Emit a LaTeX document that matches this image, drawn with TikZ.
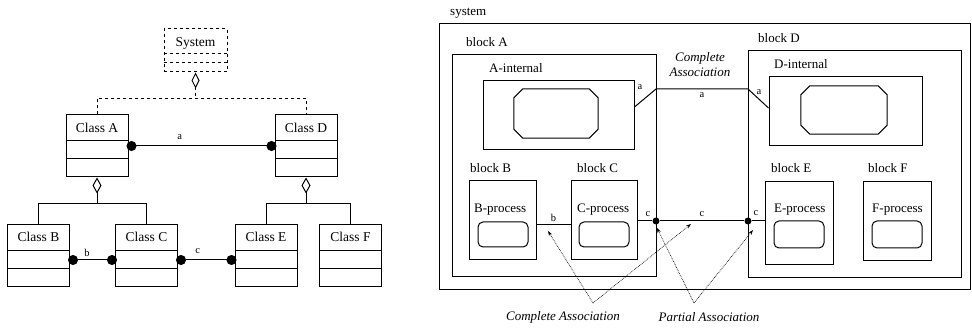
\documentclass[tikz,border=0pt]{standalone}
\usepackage{fontspec}
\setmainfont{Liberation Serif}
\usetikzlibrary{arrows.meta,positioning}
\newcommand{\classfont}{\fontsize{13.5}{16}\selectfont}
\newcommand{\blockfont}{\fontsize{13}{15}\selectfont}
\newcommand{\portfont}{\fontsize{10.5}{12}\selectfont}
\tikzset{
  cls/.style={draw,line width=1pt,minimum width=62pt,minimum height=62pt,inner sep=0pt,
    path picture={\draw[line width=1pt]
      ([yshift=-26pt]path picture bounding box.north west) -- ([yshift=-26pt]path picture bounding box.north east)
      ([yshift=-44pt]path picture bounding box.north west) -- ([yshift=-44pt]path picture bounding box.north east);},
    label={[anchor=north,inner sep=0pt,yshift=-8pt,font=\classfont]north:#1}},
  sysbox/.style={draw,dashed,line width=1pt,minimum width=63pt,minimum height=43pt,inner sep=0pt,
    path picture={\draw[dashed,line width=1pt]
      ([yshift=-25pt]path picture bounding box.north west) -- ([yshift=-25pt]path picture bounding box.north east)
      ([yshift=-34pt]path picture bounding box.north west) -- ([yshift=-34pt]path picture bounding box.north east);},
    label={[anchor=north,inner sep=0pt,yshift=-9pt,font=\classfont]north:#1}},
  assoc/.style={line width=1pt,{Circle[length=10pt]}-{Circle[length=10pt]},shorten <=-2pt,shorten >=-2pt},
  agg/.style={line width=1pt,{Diamond[open,length=16pt,width=9pt]}-},
  lab/.style={font=\portfont,inner sep=1pt},
  box/.style={draw,line width=1pt,inner sep=0pt},
  octbox/.style={inner sep=0pt},
  procbox/.style={draw,line width=1pt,inner sep=0pt,rounded corners=5pt},
  blkname/.style={anchor=base west,font=\blockfont,inner sep=0pt},
  wire/.style={line width=1pt},
  dot/.style={circle,fill,inner sep=0pt,minimum size=7pt},
  note/.style={font=\blockfont\itshape,inner sep=0pt,align=center},
  ptr/.style={densely dotted,line width=0.7pt,-{Stealth[length=5pt,width=3.5pt]}}
}
\begin{document}
\begin{tikzpicture}[x=1pt,y=-1pt]
\useasboundingbox (0,0) rectangle (972,328);
\node[sysbox=System] (sys) at (195.5,50.5) {};
\node[cls=Class A] (clsA) at (97,146) {};
\node[cls=Class D] (clsD) at (306,146) {};
\node[cls=Class B] (clsB) at (38.5,255.5) {};
\node[cls=Class C] (clsC) at (146.5,255.5) {};
\node[cls=Class E] (clsE) at (266,255.5) {};
\node[cls=Class F] (clsF) at (350.5,255.5) {};
\draw[dashed,line width=1pt,{Diamond[open,length=16pt,width=8pt]}-] (sys.south) -- ++(0,26) coordinate (jS);
\draw[dashed,line width=1pt] (clsA.north) |- (jS) -| (clsD.north);
\draw[agg] (clsA.south) -- ++(0,26) coordinate (jA);
\draw[line width=1pt] (clsB.north) |- (jA) -| (clsC.north);
\draw[agg] (clsD.south) -- ++(0,26) coordinate (jD);
\draw[line width=1pt] (clsE.north) |- (jD) -| (clsF.north);
\draw[assoc] (clsA) -- node[lab,above=5pt,pos=0.35]{a} (clsD);
\draw[assoc] ([yshift=-4.5pt]clsB.east) -- node[lab,above=2pt,pos=0.38]{b} ([yshift=-4.5pt]clsC.west);
\draw[assoc] ([yshift=-4.5pt]clsC.east) -- node[lab,above=5pt,pos=0.35]{c} ([yshift=-4.5pt]clsE.west);

\node[blkname] at (450,15.5) {system};
\node[box,minimum width=531pt,minimum height=266pt] (sysFrame) at (704.5,157) {};
\node[blkname] at (466,47) {block A};
\node[box,minimum width=204pt,minimum height=222pt] (blkA) at (554,166) {};
\node[blkname] at (489,73) {A-internal};
\node[box,minimum width=151pt,minimum height=69pt] (intA) at (558.5,115.5) {};
\node[octbox,minimum width=84pt,minimum height=49pt] (octA) at (556,113.5) {};
\node[blkname] at (470,173) {block B};
\node[box,minimum width=67pt,minimum height=79pt] (blkB) at (502.5,220.5) {};
\node[blkname] at (474,213) {B-process};
\node[procbox,minimum width=50pt,minimum height=25pt] (procB) at (503,234.5) {};
\node[blkname] at (577,173) {block C};
\node[box,minimum width=66pt,minimum height=79pt] (blkC) at (604,220.5) {};
\node[blkname] at (577,213) {C-process};
\node[procbox,minimum width=50pt,minimum height=25pt] (procC) at (604,234.5) {};
\node[blkname] at (758,43) {block D};
\node[box,minimum width=213pt,minimum height=227pt] (blkD) at (854.5,164.5) {};
\node[blkname] at (774,69) {D-internal};
\node[box,minimum width=153pt,minimum height=69pt] (intD) at (845.5,111.5) {};
\node[octbox,minimum width=86pt,minimum height=48pt] (octD) at (844,110) {};
\node[blkname] at (771,173) {block E};
\node[box,minimum width=68pt,minimum height=83pt] (blkE) at (799,223.5) {};
\node[blkname] at (774,213) {E-process};
\node[procbox,minimum width=50pt,minimum height=27pt] (procE) at (799,234.5) {};
\node[blkname] at (868,173) {block F};
\node[box,minimum width=68pt,minimum height=79pt] (blkF) at (897,221.5) {};
\node[blkname] at (872,213) {F-process};
\node[procbox,minimum width=50pt,minimum height=27pt] (procF) at (897,234.5) {};
\foreach \o in {octA,octD}
  \draw[wire] ([xshift=9pt]\o.north west) -- ([xshift=-9pt]\o.north east) -- ([yshift=-9pt]\o.north east)
    -- ([yshift=9pt]\o.south east) -- ([xshift=-9pt]\o.south east) -- ([xshift=9pt]\o.south west)
    -- ([yshift=9pt]\o.south west) -- ([yshift=-9pt]\o.north west) -- cycle;

\coordinate (aA) at (656,89);
\coordinate (aD) at (748,89);
\draw[wire] ([yshift=8.5pt]intA.east) -- (aA) -- node[lab,below=2pt]{a} (aD) -- ([yshift=3.5pt]intD.west);
\node[lab] at (640,87) {a};
\node[lab] at (759,92) {a};
\node[note] (cmplTop) at (700,65) {Complete\\Association};
\draw[wire] ([yshift=-4.5pt]blkB.east) -- node[lab,above=2pt]{b} ([yshift=-4.5pt]blkC.west);
\node[dot] (dotA) at (656,221) {};
\node[dot] (dotD) at (748,221) {};
\draw[wire] (blkC.east |- dotA) -- (dotA) -- node[lab,above=3pt]{c} (dotD) -- (blkE.west |- dotD);
\node[lab] at (648,214) {c};
\node[lab] at (756,213) {c};

\node[note] (cmplNote) at (563,317) {Complete Association};
\node[note] (partNote) at (709,317) {Partial Association};
\coordinate (cmplTip) at (593,303);
\coordinate (partTip) at (694,303);
\coordinate (bTgt) at (548,231);
\coordinate (cTgt) at (691,224);
\coordinate (cATgt) at (657,228);
\coordinate (cDTgt) at (753,230);
\draw[ptr] (cmplTip) -- (bTgt);
\draw[ptr] (cmplTip) -- (cTgt);
\draw[ptr] (partTip) -- (cATgt);
\draw[ptr] (partTip) -- (cDTgt);
\end{tikzpicture}
\end{document}
